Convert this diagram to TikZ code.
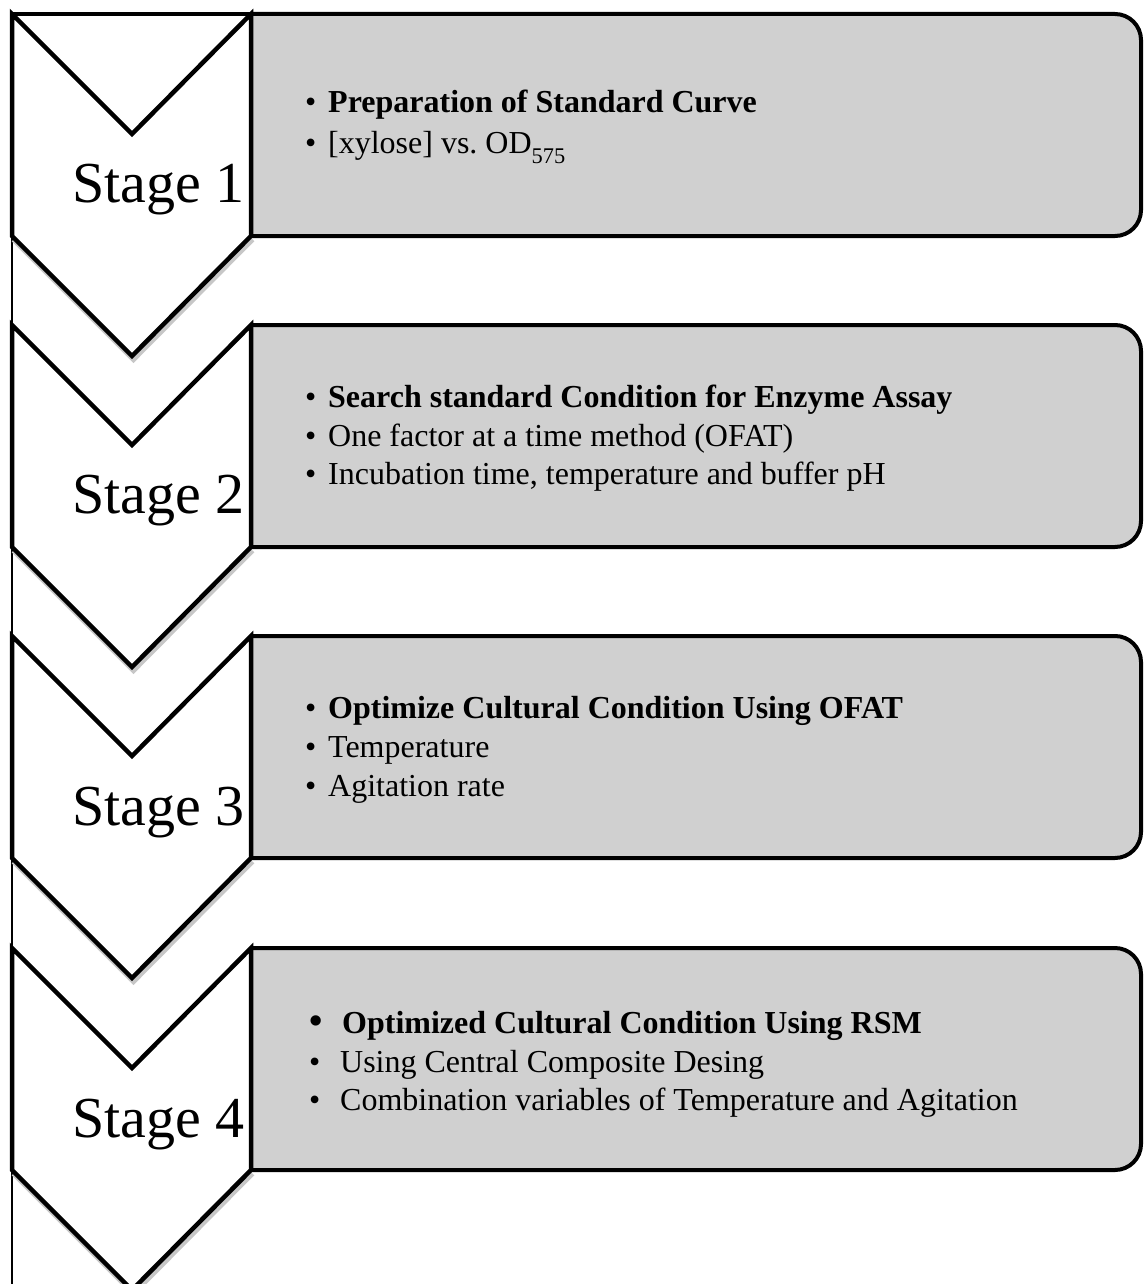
\documentclass[tikz,border=0pt]{standalone}
\usepackage{fontspec}
\setmainfont{Liberation Serif}
\definecolor{boxgray}{RGB}{208,208,208}
\tikzset{
  chev/.style={draw=black, fill=white, line width=4.5pt, line join=miter},
  chevshadow/.style={draw=black!22, line width=5pt, line join=miter, xshift=1.5pt, yshift=-3.5pt},
  stepbox/.style={draw=black, fill=boxgray, line width=4pt, rounded corners=26pt},
  stagelbl/.style={anchor=base east, inner sep=0pt, font=\fontsize{58}{60}\selectfont},
  itemtxt/.style={anchor=base west, inner sep=0pt, font=\fontsize{32}{38}\selectfont},
}
\newcommand{\bul}[1]{\makebox[#1][l]{\textbullet}}
\begin{document}
\begin{tikzpicture}[x=1pt,y=-1pt]
\useasboundingbox (0,0) rectangle (1143,1284);
\clip (0,0) rectangle (1143,1284);
% frame lines
\draw[line width=2pt] (12,14) -- (12,1284);
\draw[line width=4pt] (12,14) -- (251,14);
% ---- Stage 1 (T=14)
\filldraw[stepbox] (251,14) -- (1141,14) -- (1141,236) -- (251,236);
\draw[chevshadow] (251,236) -- (132,356) -- (12,236);
\draw[chev] (12,14) -- (132,134) -- (251,14) -- (251,236) -- (132,356) -- (12,236) -- cycle;
\node[stagelbl] (s1) at (245,202) {Stage 1};
\node[itemtxt] (a1) at (305,113) {\bul{23pt}\textbf{Preparation of Standard Curve}};
\node[itemtxt] (a2) at (305,154) {\bul{23pt}[xylose] vs.\ OD\raisebox{-3pt}{\textsubscript{575}}};
% ---- Stage 2 (T=325)
\filldraw[stepbox] (251,325) -- (1141,325) -- (1141,547) -- (251,547);
\draw[chevshadow] (251,547) -- (132,667) -- (12,547);
\draw[chev] (12,325) -- (132,445) -- (251,325) -- (251,547) -- (132,667) -- (12,547) -- cycle;
\node[stagelbl] (s2) at (245,513) {Stage 2};
\node[itemtxt] (b1) at (305,407) {\bul{23pt}\textbf{Search standard Condition for Enzyme Assay}};
\node[itemtxt] (b2) at (305,446) {\bul{23pt}One factor at a time method (OFAT)};
\node[itemtxt] (b3) at (305,484) {\bul{23pt}Incubation time, temperature and buffer pH};
% ---- Stage 3 (T=636)
\filldraw[stepbox] (251,636) -- (1141,636) -- (1141,858) -- (251,858);
\draw[chevshadow] (251,858) -- (132,978) -- (12,858);
\draw[chev] (12,636) -- (132,756) -- (251,636) -- (251,858) -- (132,978) -- (12,858) -- cycle;
\node[stagelbl] (s3) at (245,825) {Stage 3};
\node[itemtxt] (c1) at (305,718) {\bul{23pt}\textbf{Optimize Cultural Condition Using OFAT}};
\node[itemtxt] (c2) at (305,757) {\bul{23pt}Temperature};
\node[itemtxt] (c3) at (305,796) {\bul{23pt}Agitation rate};
% ---- Stage 4 (T=948)
\filldraw[stepbox] (251,948) -- (1141,948) -- (1141,1170) -- (251,1170);
\draw[chevshadow] (251,1170) -- (132,1290) -- (12,1170);
\draw[chev] (12,948) -- (132,1068) -- (251,948) -- (251,1170) -- (132,1290) -- (12,1170) -- cycle;
\node[stagelbl] (s4) at (245,1137) {Stage 4};
\node[itemtxt] (d1) at (309,1033) {\makebox[33pt][l]{\fontsize{38}{38}\selectfont\textbf{\textbullet}}\textbf{Optimized Cultural Condition Using RSM}};
\node[itemtxt] (d2) at (309,1072) {\bul{31pt}Using Central Composite Desing};
\node[itemtxt] (d3) at (309,1110) {\bul{31pt}Combination variables of Temperature and Agitation};
\end{tikzpicture}
\end{document}
